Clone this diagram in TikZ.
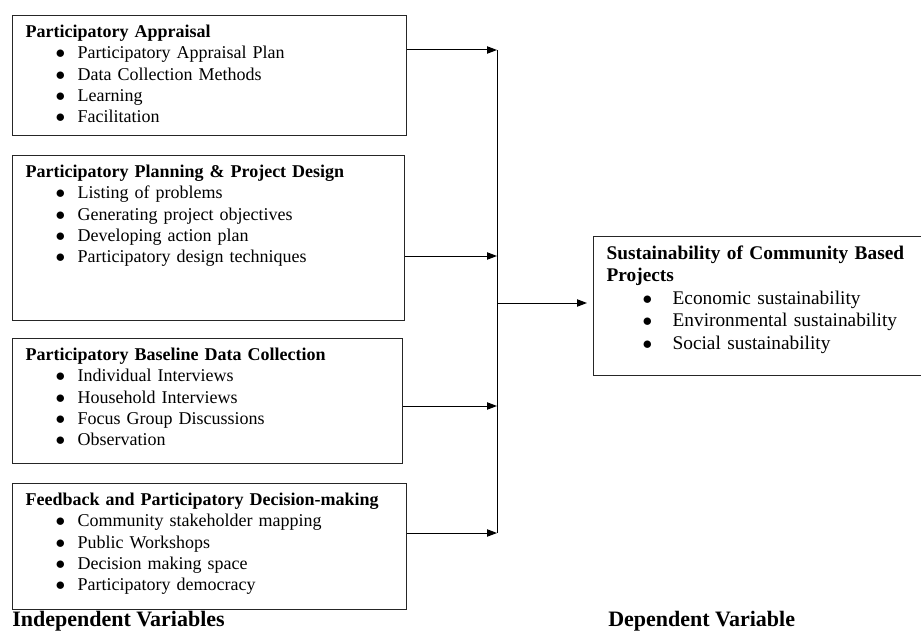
\documentclass[tikz,border=0pt]{standalone}
\usepackage{fontspec}
\setmainfont{Liberation Serif}
\usetikzlibrary{arrows.meta}
\tikzstyle{block} = [draw=black!85, line width=0.9pt, rectangle, anchor=north west,
align=left, inner xsep=9.75pt, inner ysep=0pt, text height=16.5pt,
font=\fontsize{13.5}{16}\selectfont]
\tikzstyle{heading} = [anchor=base west, inner sep=0pt, font=\fontsize{16.5}{18}\selectfont\bfseries]
\tikzstyle{link} = [draw, line width=0.75pt]
\tikzstyle{bus} = [coordinate]
\newlength{\bulind}\setlength{\bulind}{22.5pt}
\newlength{\bulgap}\setlength{\bulgap}{16.5pt}
\newcommand{\bul}[1]{\hspace*{\bulind}\makebox[\bulgap][l]{$\bullet$}#1}

\begin{document}
\begin{tikzpicture}[x=0.75pt, y=-0.75pt, >={Triangle[length=7.5pt,width=5.5pt]}]
\useasboundingbox (0,0) rectangle (921,631);

% We start with the independent variable blocks
\node [block, text width=276pt, text depth=73.5pt] (appraisal) at (12,15)
  {\textbf{Participatory Appraisal}\\
   \bul{Participatory Appraisal Plan}\\
   \bul{Data Collection Methods}\\
   \bul{Learning}\\
   \bul{Facilitation}};
\node [block, text width=274.5pt, text depth=107.25pt] (planning) at (12,155)
  {\textbf{Participatory Planning \& Project Design}\\
   \bul{Listing of problems}\\
   \bul{Generating project objectives}\\
   \bul{Developing action plan}\\
   \bul{Participatory design techniques}};
\node [block, text width=273pt, text depth=77.25pt] (baseline) at (12,338)
  {\textbf{Participatory Baseline Data Collection}\\
   \bul{Individual Interviews}\\
   \bul{Household Interviews}\\
   \bul{Focus Group Discussions}\\
   \bul{Observation}};
\node [block, text width=276pt, text depth=78pt] (feedback) at (12,483)
  {\textbf{Feedback and Participatory Decision-making}\\
   \bul{Community stakeholder mapping}\\
   \bul{Public Workshops}\\
   \bul{Decision making space}\\
   \bul{Participatory democracy}};

% the dependent variable block runs off the right edge
\node [block, text width=250pt, text height=17.25pt, text depth=87pt,
  font=\fontsize{14.5}{16.8}\selectfont] (outcome) at (593,236)
  {\setlength{\bulind}{27pt}\setlength{\bulgap}{22.5pt}%
   \textbf{Sustainability of Community Based}\\
   \textbf{Projects}\\
   \bul{Economic sustainability}\\
   \bul{Environmental sustainability}\\
   \bul{Social sustainability}};

% points on the collecting line
\node [bus] (busTop) at (497,50) {};
\node [bus] (bus2) at (497,256) {};
\node [bus] (bus3) at (497,406) {};
\node [bus] (busEnd) at (497,533) {};
\node [bus] (busOut) at (497,303) {};

% Once the blocks are placed, connecting them is easy.
\draw [link,->] (appraisal.east |- busTop) -- (busTop);
\draw [link,->] (planning.east |- bus2) -- (bus2);
\draw [link,->] (baseline.east |- bus3) -- (bus3);
\draw [link,->] (feedback.east |- busEnd) -- (busEnd);
\draw [link] (busTop) -- (busEnd);
\draw [link,->,shorten >=4.5pt] (busOut) -- (busOut -| outcome.west);

\node [heading] (indep) at (12,626) {Independent Variables};
\node [heading] (dep) at (608,626) {Dependent Variable};
\end{tikzpicture}
\end{document}
